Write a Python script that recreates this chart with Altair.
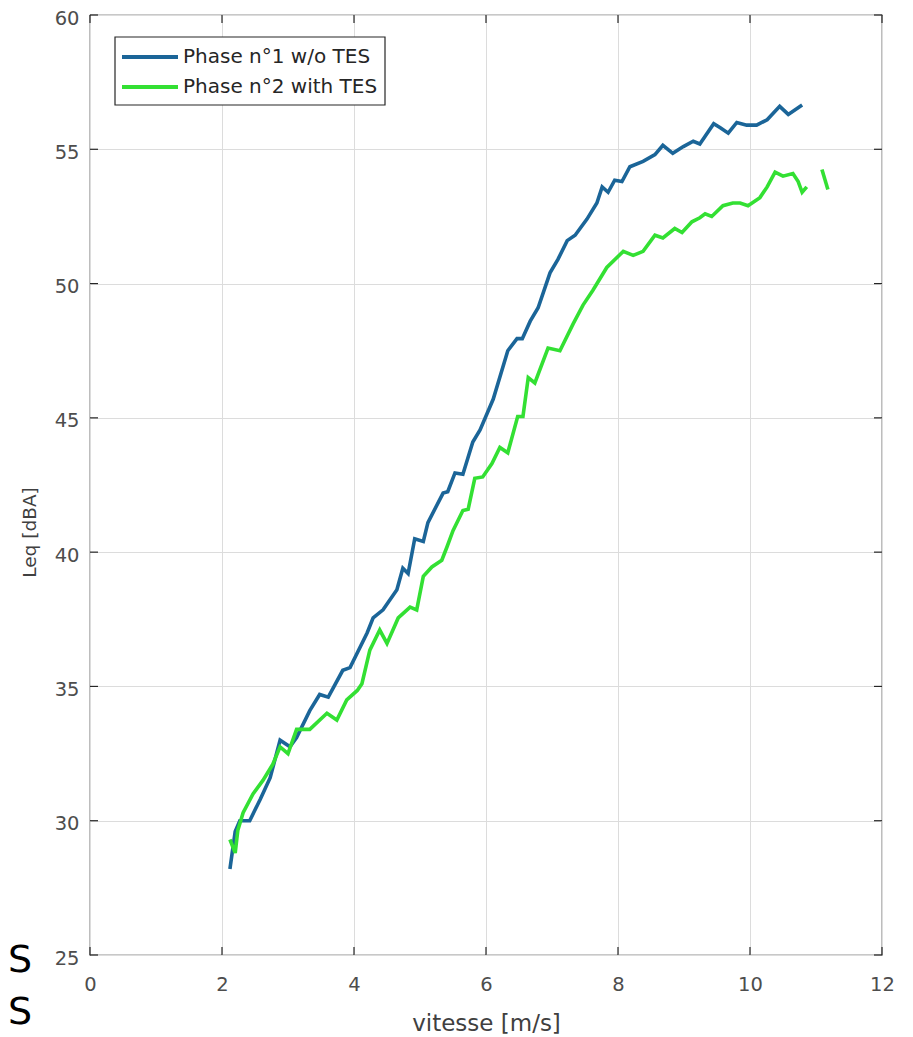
import altair as alt
import pandas as pd

blue_x = [2.12, 2.20, 2.27, 2.42, 2.58, 2.73, 2.88, 3.03, 3.13, 3.33, 3.48, 3.61, 3.83, 3.94,
          4.20, 4.29, 4.44, 4.65, 4.74, 4.82, 4.92, 5.05, 5.12, 5.35, 5.42, 5.53, 5.65, 5.80,
          5.91, 6.11, 6.33, 6.47, 6.55, 6.67, 6.79, 6.97, 7.09, 7.23, 7.35, 7.53, 7.68, 7.76,
          7.85, 7.95, 8.06, 8.18, 8.38, 8.56, 8.68, 8.83, 8.99, 9.14, 9.24, 9.45, 9.55, 9.67,
          9.80, 9.95, 10.10, 10.26, 10.45, 10.58, 10.79]
blue_y = [28.2, 29.6, 30.0, 30.0, 30.8, 31.6, 33.0, 32.75, 33.1, 34.1, 34.7, 34.6, 35.6, 35.7,
          37.0, 37.55, 37.85, 38.6, 39.4, 39.2, 40.5, 40.4, 41.1, 42.2, 42.25, 42.95, 42.9, 44.1,
          44.55, 45.7, 47.5, 47.95, 47.95, 48.6, 49.1, 50.4, 50.9, 51.6, 51.8, 52.4, 53.0, 53.6,
          53.4, 53.85, 53.8, 54.35, 54.55, 54.8, 55.15, 54.85, 55.1, 55.3, 55.2, 55.95, 55.8, 55.6,
          56.0, 55.9, 55.9, 56.1, 56.6, 56.3, 56.65]

green_x = [2.12, 2.20, 2.24, 2.32, 2.47, 2.62, 2.77, 2.88, 3.00, 3.13, 3.33, 3.59, 3.74, 3.89,
           4.05, 4.12, 4.24, 4.39, 4.50, 4.67, 4.85, 4.95, 5.05, 5.18, 5.33, 5.41, 5.50, 5.65,
           5.73, 5.83, 5.95, 6.09, 6.21, 6.33, 6.48, 6.56, 6.64, 6.74, 6.94, 7.12, 7.32, 7.47,
           7.62, 7.83, 8.08, 8.23, 8.38, 8.56, 8.68, 8.86, 8.97, 9.12, 9.24, 9.32, 9.42, 9.59,
           9.74, 9.85, 9.97, 10.15, 10.26, 10.38, 10.50, 10.65, 10.73, 10.79, 10.86, None,
           11.09, 11.18]
green_y = [29.3, 28.8, 29.65, 30.3, 31.0, 31.5, 32.1, 32.75, 32.5, 33.4, 33.4, 34.0, 33.75, 34.5,
           34.85, 35.1, 36.35, 37.1, 36.6, 37.55, 37.95, 37.85, 39.1, 39.45, 39.7, 40.2, 40.8, 41.55,
           41.6, 42.75, 42.8, 43.3, 43.9, 43.7, 45.05, 45.05, 46.5, 46.3, 47.6, 47.5, 48.5, 49.2,
           49.75, 50.6, 51.2, 51.05, 51.2, 51.8, 51.7, 52.05, 51.9, 52.3, 52.45, 52.6, 52.5, 52.9,
           53.0, 53.0, 52.9, 53.2, 53.6, 54.15, 54.0, 54.1, 53.8, 53.4, 53.6, None,
           54.25, 53.5]

series_names = ["Phase n°1 w/o TES", "Phase n°2 with TES"]
series_colors = ["#1b6598", "#33e033"]
x_ticks = [0, 2, 4, 6, 8, 10, 12]
y_ticks = [25, 30, 35, 40, 45, 50, 55, 60]
stray_text = ["S", "S"]

rows = []
order = 0
for name, xs_, ys_ in [(series_names[0], blue_x, blue_y), (series_names[1], green_x, green_y)]:
    seg = 0
    for xv, yv in zip(xs_, ys_):
        if xv is None:
            seg += 1
            continue
        rows.append({"x": xv, "y": yv, "series": name, "seg": f"{name}-{seg}", "o": order})
        order += 1
df = pd.DataFrame(rows)
xt = pd.DataFrame({"x": x_ticks})
yt = pd.DataFrame({"y": y_ticks})

W, H = 792, 940
FONT = "DejaVu Sans"
FRAME = "#262626"
xs = alt.Scale(domain=[0, 12], nice=False, zero=False)
ys = alt.Scale(domain=[25, 60], nice=False, zero=False)

main_x_axis = alt.Axis(orient="bottom", values=x_ticks, grid=True, gridColor="#dcdcdc",
                       domain=False, ticks=False, labelFontSize=19.5, labelColor="#4d4d4d",
                       labelFont=FONT, labelPadding=20, labelFlush=False,
                       title="vitesse [m/s]",
                       titleFont=FONT, titleFontSize=23, titleFontWeight="normal",
                       titleColor="#404040", titleY=57, titleBaseline="top")
main_y_axis = alt.Axis(orient="left", values=y_ticks, grid=True, gridColor="#dcdcdc",
                       domain=False, ticks=False, labelFontSize=19.5, labelColor="#4d4d4d",
                       labelFont=FONT, labelPadding=11, labelFlush=False, labelOffset=3,
                       title="Leq [dBA]",
                       titleFont=FONT, titleFontSize=18.5, titleFontWeight="normal",
                       titleColor="#404040", titleX=-61, titleY=517,
                       titleBaseline="middle", titleAlign="center", titleAngle=270)

X = alt.X("x:Q", scale=xs, axis=main_x_axis, title="vitesse [m/s]")
Y = alt.Y("y:Q", scale=ys, axis=main_y_axis, title="Leq [dBA]")

lines = alt.Chart(df).mark_line(strokeWidth=3.6).encode(
    x=X, y=Y,
    color=alt.Color("series:N",
                    scale=alt.Scale(domain=series_names, range=series_colors),
                    legend=None),
    detail="seg:N",
    order="o:Q",
)

TL = 8
tick_bottom = alt.Chart(xt).mark_rule(color=FRAME, strokeWidth=1.2).encode(
    x=X, y=alt.value(H), y2=alt.value(H - TL))
tick_top = alt.Chart(xt).mark_rule(color=FRAME, strokeWidth=1.2).encode(
    x=X, y=alt.value(0), y2=alt.value(TL))
tick_left = alt.Chart(yt).mark_rule(color=FRAME, strokeWidth=1.2).encode(
    y=Y, x=alt.value(0), x2=alt.value(TL))
tick_right = alt.Chart(yt).mark_rule(color=FRAME, strokeWidth=1.2).encode(
    y=Y, x=alt.value(W - TL), x2=alt.value(W))

# legend (manual, MATLAB style box)
leg_df = pd.DataFrame({"name": series_names, "color": series_colors})
leg_box = alt.Chart(leg_df.head(1)).mark_rect(fill="white", stroke=FRAME, strokeWidth=1.2).encode(
    x=alt.value(25), x2=alt.value(295), y=alt.value(22), y2=alt.value(90))
leg_items = []
for i, (nm, col) in enumerate(zip(series_names, series_colors)):
    yy = 42 + 30 * i
    one = leg_df.iloc[[i]]
    leg_items.append(alt.Chart(one).mark_rule(color=col, strokeWidth=4).encode(
        x=alt.value(32), x2=alt.value(88), y=alt.value(yy)))
    leg_items.append(alt.Chart(one).mark_text(align="left", baseline="middle", font=FONT,
                                              fontSize=20, color="#262626").encode(
        text="name:N", x=alt.value(93), y=alt.value(yy)))

s_df = pd.DataFrame({"t": stray_text})
s_marks = []
for i, yy in enumerate([957, 1009]):
    s_marks.append(alt.Chart(s_df.iloc[[i]]).mark_text(font=FONT, fontSize=38, color="black",
                                                       baseline="alphabetic", align="left").encode(
        text="t:N", x=alt.value(-82), y=alt.value(yy)))

chart = alt.layer(lines, tick_bottom, tick_top, tick_left, tick_right, leg_box,
                  *leg_items, *s_marks).properties(
    width=W, height=H,
    autosize=alt.AutoSizeParams(type="none"),
    padding={"left": 82, "top": 7, "right": 20, "bottom": 80},
).configure_view(stroke=FRAME, strokeWidth=1.2)

chart.save("out.html", embed_options={"renderer": "svg", "actions": False})
